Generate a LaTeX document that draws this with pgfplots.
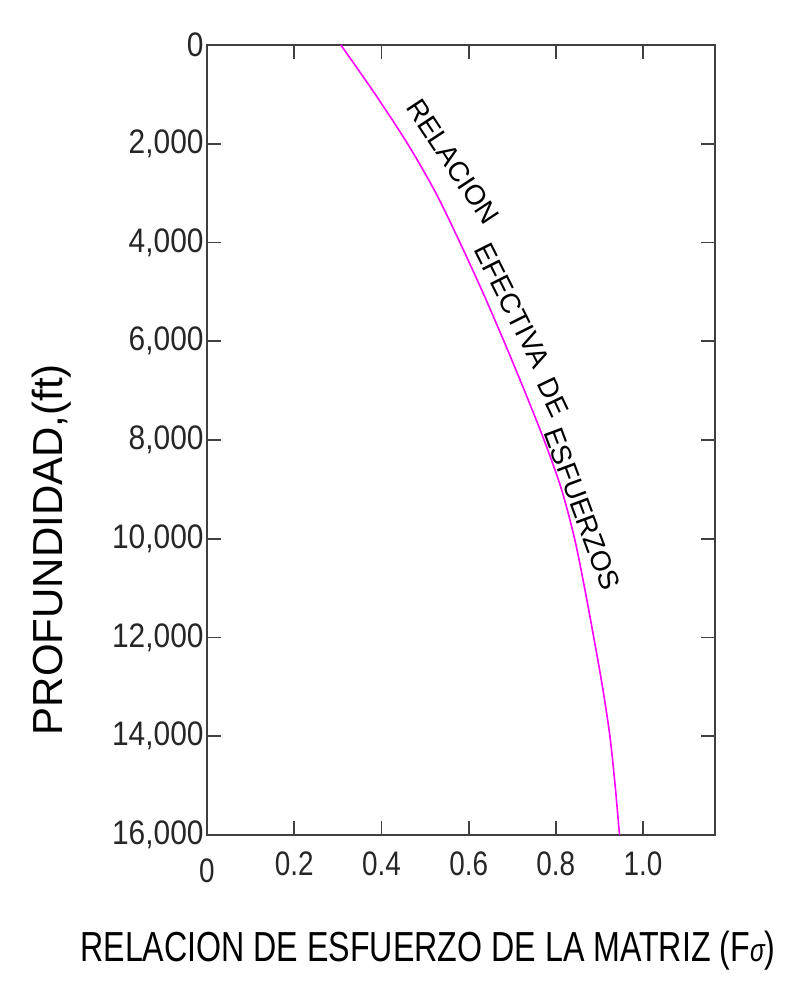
\documentclass[border=0pt]{standalone}
\usepackage{graphicx}
\usepackage{fontspec}
\setmainfont{Liberation Sans}
\usepackage{pgfplots}
\pgfplotsset{compat=1.18}
\definecolor{axgray}{HTML}{404040}
\definecolor{curvemag}{HTML}{FF00FF}
\newcommand\yl[1]{\scalebox{0.88}[1]{#1}}
\newcommand\xl[1]{\scalebox{0.82}[1]{#1}}
\begin{document}
\begin{tikzpicture}
\path[use as bounding box] (-103.5pt,-74.5pt) rectangle (297.5pt,417.5pt);
\begin{axis}[
  at={(0,0)}, anchor=south west,
  scale only axis, width=254pt, height=395pt,
  xmin=0, xmax=1.165, ymin=0, ymax=16000,
  y dir=reverse,
  scaled y ticks=false, scaled x ticks=false,
  axis line style={draw=axgray, line width=1pt},
  tick style={draw=axgray, line width=0.9pt},
  tick align=inside,
  major tick length=7pt,
  xtick={0,0.2,0.4,0.6,0.8,1.0},
  xticklabels={\raisebox{-3.5pt}[\height][\depth]{\xl{0}},\xl{0.2},\xl{0.4},\xl{0.6},\xl{0.8},\xl{1.0}},
  ytick={0,2000,4000,6000,8000,10000,12000,14000,16000},
  yticklabels={\yl{0},\yl{2,000},\yl{4,000},\yl{6,000},\yl{8,000},\yl{10,000},\yl{12,000},\yl{14,000},\yl{16,000}},
  xticklabel style={font=\fontsize{17}{20}\selectfont, yshift=-5pt, text=black!85},
  yticklabel style={font=\fontsize{17}{20}\selectfont, inner sep=1.5pt, text=black!85},
  /pgf/number format/assume math mode=true,
  ylabel={PROFUNDIDAD,(ft)},
  ylabel style={at={(axis description cs:-0.305,0.361)}, anchor=center, rotate=0, font=\fontsize{21}{25}\selectfont},
  xlabel={\scalebox{0.766}[1]{RELACION DE ESFUERZO DE LA MATRIZ (F{\fontsize{16}{18}\selectfont\itshape σ})}},
  xlabel style={at={(axis description cs:0.435,-0.146)}, anchor=center, font=\fontsize{21}{25}\selectfont},
]
\addplot[curvemag, line width=0.8pt, smooth] coordinates {
(0.307,0) (0.386,1000) (0.460,2000) (0.525,3000) (0.580,4000) (0.632,5000)
(0.681,6000) (0.728,7000) (0.773,8000) (0.813,9000) (0.843,10000) (0.866,11000)
(0.887,12000) (0.907,13000) (0.924,14000) (0.936,15000) (0.946,16000)
};
\begin{scope}[every node/.style={anchor=center, font=\fontsize{14}{17}\selectfont, text=black, inner sep=0pt}]
\node[rotate=-56.5] at (axis cs:0.564,2364) {RELACION};
\node[rotate=-63.4] at (axis cs:0.700,5278) {EFECTIVA};
\node[rotate=-64.5] at (axis cs:0.794,7133) {DE};
\node[rotate=-69.6] at (axis cs:0.860,9395) {ESFUERZOS};
\end{scope}
\end{axis}
\end{tikzpicture}
\end{document}
